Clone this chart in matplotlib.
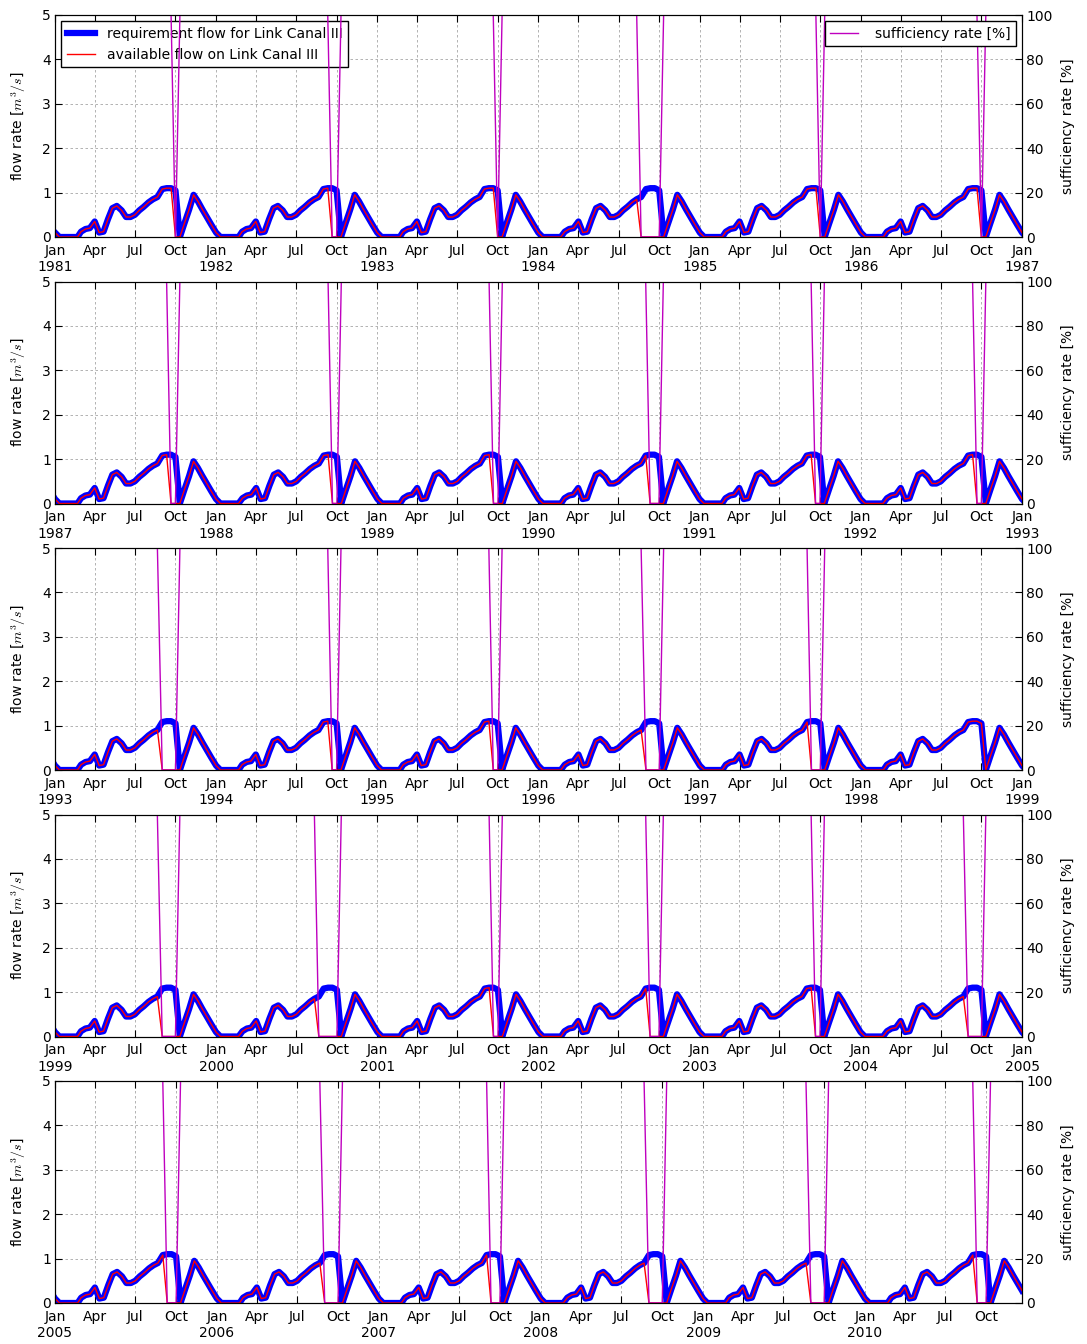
# -*- coding: utf-8 -*-
import datetime as dt
import numpy as np
import matplotlib
matplotlib.use('Agg')
from matplotlib import pyplot as plt
import matplotlib.dates as mdates
from matplotlib.ticker import FuncFormatter

plt.rcParams['font.family'] = ['DejaVu Sans']
plt.rcParams['mathtext.fontset'] = 'cm'

# requirement flow [m3/s], one value per dekad (1st, 11th, 21st of each month)
req_year = [0.10, 0.00, 0.00, 0.00, 0.00, 0.00,
            0.12, 0.18, 0.20, 0.35, 0.10, 0.12,
            0.40, 0.65, 0.70, 0.60, 0.45, 0.45,
            0.50, 0.60, 0.68, 0.78, 0.85, 0.90,
            1.08, 1.10, 1.10, 1.05, 0.00, 0.30,
            0.62, 0.95, 0.80, 0.62, 0.45, 0.28]

years = list(range(1981, 2011))
# first dekad of the year at which the canal has no water (28 = no shortage that year)
dry_from = [27, 26, 27, 23, 27, 27,
            26, 26, 26, 25, 26, 26,
            24, 26, 26, 24, 25, 28,
            24, 23, 26, 25, 26, 24,
            25, 24, 25, 24, 24, 25]
dry_to = 28

panel_start = [1981, 1987, 1993, 1999, 2005]

# build the series
dates = []
req = []
avail = []
for y, d0 in zip(years, dry_from):
    for i in range(36):
        m = i // 3 + 1
        day = [1, 11, 21][i % 3]
        dates.append(dt.datetime(y, m, day))
        req.append(req_year[i])
        if d0 <= i < dry_to:
            avail.append(0.0)
        else:
            avail.append(req_year[i])
req = np.array(req)
avail = np.array(avail)
rate = np.where(req > 0, 100.0 * avail / np.where(req > 0, req, 1), 100.0)


def fmt(x, pos):
    d = mdates.num2date(x)
    if d.month == 1:
        return d.strftime('%b') + '\n' + str(d.year)
    return d.strftime('%b')


fig = plt.figure(figsize=(10.87, 13.44), dpi=100)
W, H = 1087.0, 1344.0

for k, y0 in enumerate(panel_start):
    top = 15 + 266.5 * k
    ax = fig.add_axes([55 / W, 1 - (top + 222) / H, 967 / W, 222 / H])
    l1, = ax.plot(dates, req, color='b', lw=4.5, label='requirement flow for Link Canal III')
    l2, = ax.plot(dates, avail, color='r', lw=1, label='available flow on Link Canal III')
    ax.set_ylim(0, 5)
    ax.set_yticks([0, 1, 2, 3, 4, 5])
    if k < 4:
        ax.set_xlim(dt.datetime(y0, 1, 1), dt.datetime(y0 + 6, 1, 1))
    else:
        ax.set_xlim(dt.datetime(y0, 1, 1), dates[-1])
    ax.xaxis.set_major_locator(mdates.MonthLocator(bymonth=[1, 4, 7, 10]))
    ax.xaxis.set_major_formatter(FuncFormatter(fmt))
    ax.grid(True, color='0.65', linestyle=(0, (3, 3)), linewidth=0.6)
    ax.tick_params(direction='in', top=True, length=5, labelsize=10, pad=3)
    ax.tick_params(axis='x', pad=5)
    ax.set_ylabel('flow rate [$m^3/s$]', fontsize=10, labelpad=10)

    ax2 = ax.twinx()
    l3, = ax2.plot(dates, rate, color='m', lw=1, label='sufficiency rate [%]')
    ax2.set_ylim(0, 100)
    ax2.set_yticks([0, 20, 40, 60, 80, 100])
    ax2.tick_params(direction='in', length=5, labelsize=10, pad=3)
    ax2.set_ylabel('sufficiency rate [%]', fontsize=10, labelpad=6)

    if k == 0:
        ax.legend(handles=[l1, l2], loc='upper left', fancybox=False, edgecolor='k',
                  framealpha=1, fontsize=10, handlelength=2.0, handletextpad=0.9,
                  borderaxespad=0.45, labelspacing=0.5)
        ax2.legend(handles=[l3], loc='upper right', fancybox=False, edgecolor='k',
                   framealpha=1, fontsize=10, handlelength=2.0, handletextpad=1.2,
                   borderaxespad=0.45)

fig.savefig('out.png', dpi=100)
